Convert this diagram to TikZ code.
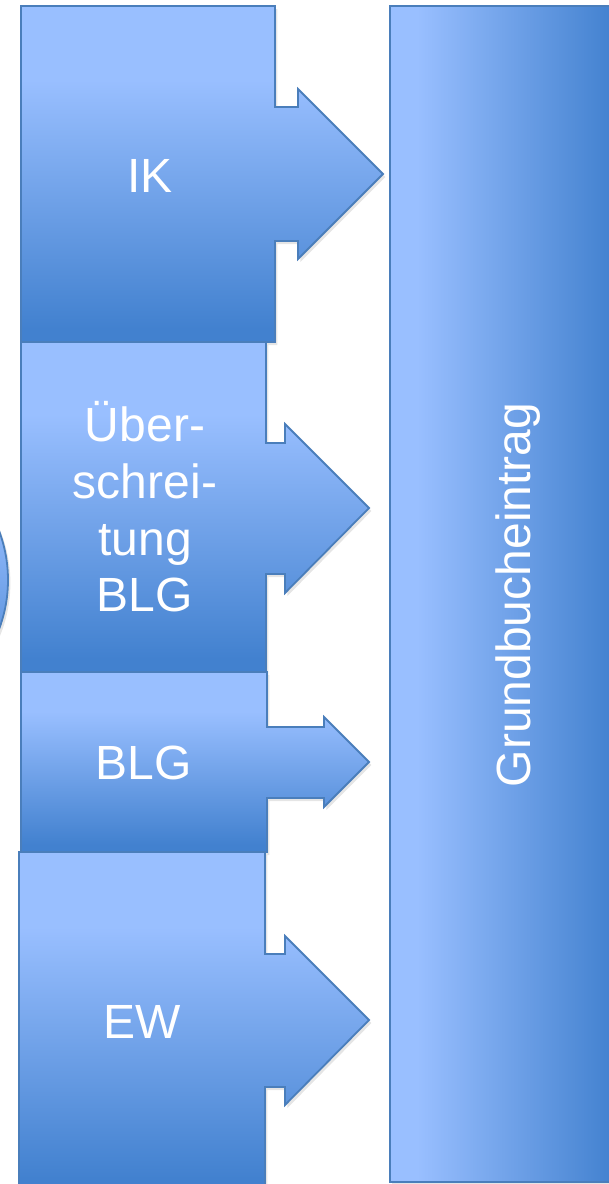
\documentclass[tikz,border=0pt]{standalone}
\usepackage{fontspec}
\setmainfont{Liberation Sans}
\definecolor{boxlight}{HTML}{99BFFF}
\definecolor{boxdark}{HTML}{4281CF}
\definecolor{boxline}{HTML}{4A7EBB}
% top-to-bottom fade of the step boxes (0bp = bottom, path spans 25bp..75bp)
\pgfdeclareverticalshading{boxfade}{100bp}{color(0bp)=(boxdark); color(27bp)=(boxdark); color(64bp)=(boxlight); color(100bp)=(boxlight)}
% left-to-right fade of the tall bar
\pgfdeclarehorizontalshading{barfade}{100bp}{color(0bp)=(boxlight); color(31bp)=(boxlight); color(75bp)=(boxdark); color(100bp)=(boxdark)}
\tikzset{
  boxshape/.style={shade, shading=boxfade, draw=boxline, line width=0.9pt, line join=miter,
    preaction={fill=black, opacity=0.10, transform canvas={shift={(1.2pt,-1.5pt)}}}},
  barshape/.style={shade, shading=barfade, draw=boxline, line width=0.9pt,
    preaction={fill=black, opacity=0.10, transform canvas={shift={(1.2pt,-1.5pt)}}}},
  lbl/.style={text=white, font=\fontsize{24}{28.3}\selectfont, inner sep=0pt},
}
\begin{document}
\begin{tikzpicture}[x=0.5pt, y=-0.5pt]
\useasboundingbox (0,0) rectangle (609,1184);

% circle at the left margin
\path[boxshape] (-131,580) circle[radius=139];

% step boxes with arrows, drawn top to bottom so each overlaps the one above
\path[boxshape] (21,6) -- (275,6) -- (275,107) -- (298,107) -- (298,89) -- (383,174)
  -- (298,259) -- (298,241) -- (275,241) -- (275,342) -- (21,342) -- cycle;
\path[boxshape] (21,342) -- (266,342) -- (266,443) -- (285,443) -- (285,424) -- (369,508)
  -- (285,593) -- (285,574) -- (266,574) -- (266,672) -- (21,672) -- cycle;
\path[boxshape] (21,672) -- (267,672) -- (267,727) -- (324,727) -- (324,717) -- (369,762)
  -- (324,807) -- (324,798) -- (267,798) -- (267,852) -- (21,852) -- cycle;
\path[boxshape] (19,852) -- (265,852) -- (265,954) -- (285,954) -- (285,936) -- (369,1020)
  -- (285,1105) -- (285,1087) -- (265,1087) -- (265,1192) -- (19,1192) -- cycle;

% tall target bar
\path[barshape] (390,6) rectangle (614,1182);

% labels
\node[lbl, anchor=base] (ik) at (150,192) {IK};
\node[lbl, align=center] (ueber) at (145,507) {Über-\\schrei-\\tung\\BLG};
\node[lbl, anchor=base] (blg) at (144,779) {BLG};
\node[lbl, anchor=base] (ew) at (142,1038) {EW};
\node[lbl, anchor=base, rotate=90] (gb) at (530,595) {Grundbucheintrag};
\end{tikzpicture}
\end{document}
